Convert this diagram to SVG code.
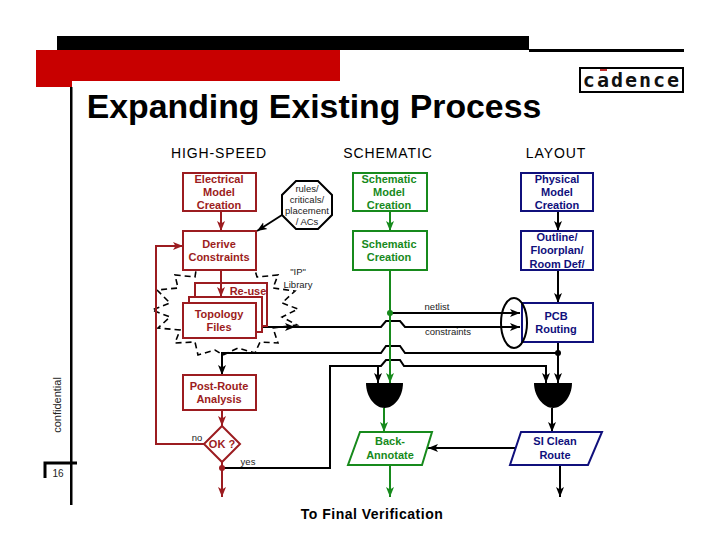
<svg xmlns="http://www.w3.org/2000/svg" width="720" height="540" viewBox="0 0 720 540">
<style>
text{font-family:"Liberation Sans",Arial,sans-serif;text-anchor:middle}
.b{font-weight:bold;font-size:11px}
.s{font-size:9.5px;fill:#222}
.h{font-size:14px;fill:#000;letter-spacing:0.9px}
.r{fill:#fff;stroke:#9c1c20;stroke-width:2}
.rt{fill:#9c1c20}
.g{fill:#fff;stroke:#178a1c;stroke-width:2}
.gt{fill:#178a1c}
.n{fill:#fff;stroke:#10107c;stroke-width:2}
.nt{fill:#10107c}
.lk{stroke:#000;stroke-width:2;fill:none}
.lr{stroke:#9c1c20;stroke-width:2;fill:none}
.lg{stroke:#178a1c;stroke-width:2;fill:none}
</style>
<defs>
<marker id="ak" viewBox="0 0 10 10" refX="10" refY="5" markerWidth="10" markerHeight="10" markerUnits="userSpaceOnUse" orient="auto"><path d="M0 1L10 5L0 9L2.5 5Z" fill="#000"/></marker>
<marker id="ar" viewBox="0 0 10 10" refX="10" refY="5" markerWidth="10" markerHeight="10" markerUnits="userSpaceOnUse" orient="auto"><path d="M0 1L10 5L0 9L2.5 5Z" fill="#9c1c20"/></marker>
<marker id="ag" viewBox="0 0 10 10" refX="10" refY="5" markerWidth="10" markerHeight="10" markerUnits="userSpaceOnUse" orient="auto"><path d="M0 1L10 5L0 9L2.5 5Z" fill="#178a1c"/></marker>
</defs>
<g id="frame">
<rect x="57" y="36" width="472" height="14" fill="#000"/>
<rect x="529" y="49" width="155" height="3" fill="#000"/>
<path d="M36 50H340V81H72V87H36Z" fill="#c80000"/>
<rect x="70" y="87" width="2.500" height="418" fill="#000"/>
<path d="M45 478V463H77" fill="none" stroke="#000" stroke-width="3"/>
<text x="58" y="477" font-size="10" fill="#222">16</text>
<text transform="translate(61 405) rotate(-90)" font-size="11" fill="#222">confidential</text>
<text x="314" y="118" font-size="33.800" font-weight="bold" fill="#000">Expanding Existing Process</text>
</g>
<g id="logo">
<rect x="580" y="68" width="103" height="24" fill="#fff" stroke="#000" stroke-width="2"/>
<rect x="600" y="69" width="7" height="2" fill="#c03030"/>
<text x="632" y="87" font-size="20" font-weight="bold" letter-spacing="2" style="font-family:'DejaVu Sans Mono',monospace" fill="#111">cadence</text>
</g>
<g id="headings">
<text class="h" x="219" y="158">HIGH-SPEED</text>
<text class="h" x="388" y="158">SCHEMATIC</text>
<text class="h" x="556" y="158">LAYOUT</text>
</g>
<g id="burst">
<polygon points="197,264 212,269 228,264 238,269 255,264 255,270 257,277 278,275 273,288 295,291 282,303 298,309 282,317 297,325 273,328 278,343 260,342 255,353 238,348 223,355 215,350 198,355 195,342 175,343 180,330 158,328 170,317 152,310 170,303 157,290 178,288 175,275 195,277" fill="none" stroke="#000" stroke-width="1.600" stroke-dasharray="6 4"/>
</g>
<g id="connectors">
<path class="lr" d="M221 211V231" marker-end="url(#ar)"/>
<path class="lk" d="M282 215L257 231" marker-end="url(#ak)"/>
<path class="lr" d="M204 444H156V246H183" marker-end="url(#ar)"/>
<path class="lg" d="M390 211V231" marker-end="url(#ag)"/>
<path class="lk" d="M558 211V231" marker-end="url(#ak)"/>
<path class="lk" d="M558 270V303" marker-end="url(#ak)"/>
<path class="lk" d="M390 313H520" marker-end="url(#ak)"/>
<path class="lk" d="M263 327H295" marker-end="url(#ak)"/>
<path class="lk" d="M295 327H381L386 321H400L405 327H520" marker-end="url(#ak)"/>
<path class="lk" d="M558 353H405L400 346H386L381 353H222V375" marker-end="url(#ak)"/>
<path class="lk" d="M558 342V383" marker-end="url(#ak)"/>
<path class="lk" d="M222 468H330V366H378V383" marker-end="url(#ak)"/>
<path class="lk" d="M378 366H381L386 360H400L404 366H546V383" marker-end="url(#ak)"/>
<path class="lg" d="M390 270V383" marker-end="url(#ag)"/>
<path class="lg" d="M384 408V432" marker-end="url(#ag)"/>
<path class="lk" d="M552 408V432" marker-end="url(#ak)"/>
<path class="lr" d="M222 410V426" marker-end="url(#ar)"/>
<path class="lr" d="M222 462V497" marker-end="url(#ar)"/>
<path class="lg" d="M390 465V497" marker-end="url(#ag)"/>
<path class="lk" d="M560 465V497" marker-end="url(#ak)"/>
<path class="lk" d="M517 448H428" marker-end="url(#ak)"/>
<circle cx="390" cy="313" r="3" fill="#178a1c"/>
<circle cx="558" cy="353" r="3" fill="#000"/>
<circle cx="222" cy="468" r="3" fill="#9c1c20"/>
</g>
<g id="electrical"><rect class="r" x="183" y="173" width="73" height="38"/>
<text class="b rt" x="219" y="183">Electrical</text><text class="b rt" x="219" y="196">Model</text><text class="b rt" x="219" y="209">Creation</text></g>
<g id="rules"><polygon points="296,181 318,181 332,195 332,215 318,229 296,229 282,215 282,195" fill="#fff" stroke="#000" stroke-width="2"/>
<text class="s" x="307" y="192">rules/</text><text class="s" x="307" y="203">criticals/</text><text class="s" x="307" y="214">placement</text><text class="s" x="307" y="225">/ ACs</text></g>
<g id="derive"><rect class="r" x="183" y="231" width="73" height="39"/>
<text class="b rt" x="219" y="248">Derive</text><text class="b rt" x="219" y="261">Constraints</text></g>
<g id="topology">
<rect class="r" x="195" y="283" width="72" height="43"/>
<rect class="r" x="189" y="297" width="73" height="35"/>
<rect class="r" x="183" y="303" width="73" height="35"/>
<text class="b rt" x="248" y="295">Re-use</text>
<text class="b rt" x="219" y="318">Topology</text><text class="b rt" x="219" y="331">Files</text>
<path class="lr" d="M221 270V297" marker-end="url(#ar)"/></g>
<g id="library"><text class="s" x="298" y="275">"IP"</text><text class="s" x="298" y="288">Library</text></g>
<g id="schem-model"><rect class="g" x="353" y="173" width="74" height="38"/>
<text class="b gt" x="389" y="183">Schematic</text><text class="b gt" x="389" y="196">Model</text><text class="b gt" x="389" y="209">Creation</text></g>
<g id="schem-creation"><rect class="g" x="353" y="231" width="74" height="39"/>
<text class="b gt" x="389" y="248">Schematic</text><text class="b gt" x="389" y="261">Creation</text></g>
<g id="physical"><rect class="n" x="521" y="173" width="72" height="38"/>
<text class="b nt" x="557" y="183">Physical</text><text class="b nt" x="557" y="196">Model</text><text class="b nt" x="557" y="209">Creation</text></g>
<g id="outline"><rect class="n" x="521" y="231" width="72" height="39"/>
<text class="b nt" x="557" y="241">Outline/</text><text class="b nt" x="557" y="254">Floorplan/</text><text class="b nt" x="557" y="268">Room Def/</text></g>
<g id="labels"><text class="s" x="437" y="310">netlist</text><text class="s" x="448" y="335">constraints</text><text class="s" x="197" y="441">no</text><text class="s" x="248" y="465">yes</text></g>
<g id="pcb"><rect class="n" x="522" y="303" width="71" height="39"/>
<text class="b nt" x="556" y="320">PCB</text><text class="b nt" x="556" y="333">Routing</text></g>
<ellipse id="bundle" cx="514" cy="323" rx="13" ry="25" fill="none" stroke="#000" stroke-width="2"/>
<g id="gate1"><path d="M366 383H403C403 397 394 408 384.500 408C375 408 366 397 366 383Z" fill="#000"/></g>
<g id="gate2"><path d="M534 383H572C572 397 562 408 553 408C544 408 534 397 534 383Z" fill="#000"/></g>
<g id="postroute"><rect class="r" x="183" y="375" width="73" height="35"/>
<text class="b rt" x="219" y="390">Post-Route</text><text class="b rt" x="219" y="403">Analysis</text></g>
<g id="ok"><polygon points="222,426 240,444 222,462 204,444" fill="#fff" stroke="#9c1c20" stroke-width="2"/>
<text class="b rt" x="222" y="448">OK ?</text></g>
<g id="back"><polygon points="360,432 432,432 422,465 348,465" class="g"/>
<text class="b gt" x="390" y="445">Back-</text><text class="b gt" x="390" y="459">Annotate</text></g>
<g id="si"><polygon points="521,432 602,432 588,465 510,465" class="n"/>
<text class="b nt" x="555" y="445">SI Clean</text><text class="b nt" x="555" y="459">Route</text></g>
<text id="final" x="372" y="519" font-size="14" font-weight="bold" letter-spacing="0.5" fill="#000">To Final Verification</text>
</svg>
